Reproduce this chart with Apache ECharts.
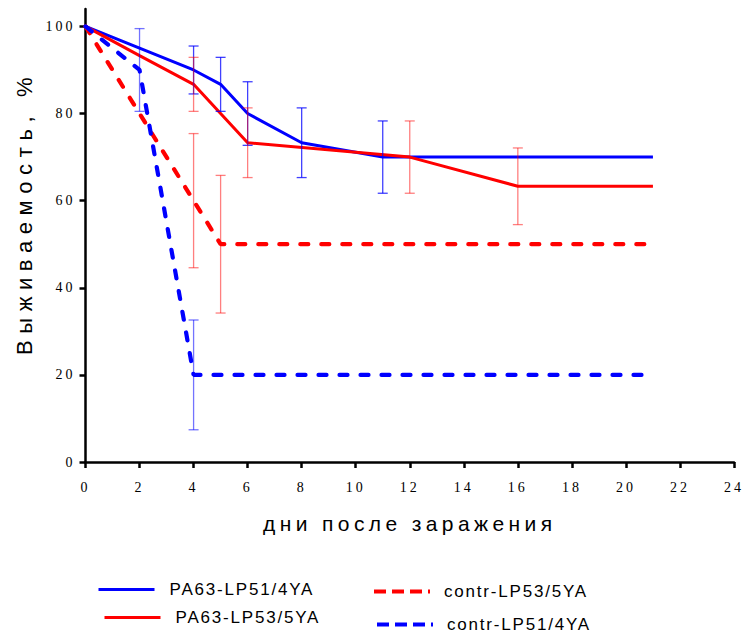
<!DOCTYPE html>
<html><head><meta charset="utf-8">
<script src="https://cdn.jsdelivr.net/npm/echarts@6/dist/echarts.min.js"></script>
<style>
html,body{margin:0;padding:0;background:#fff;}
#c{width:744px;height:637px;}
#c text[style*="14px"]{letter-spacing:3px;}
#c text[style*="17px"]{letter-spacing:1.8px;}
#c text[style*="21px"]{letter-spacing:4.4px;}
#c text[style*="22px"]{letter-spacing:6.6px;}
</style></head><body><div id="c"></div>
<script>
// ---- data ----
const seriesNames = ['PA63-LP51/4YA', 'PA63-LP53/5YA', 'contr-LP53/5YA', 'contr-LP51/4YA'];
const xAxisTitle = 'дни после заражения';
const yAxisTitle = 'Выживаемость, %';
const yTickValues = [0, 20, 40, 60, 80, 100];

const pa51Days = [0, 2, 4, 5, 6, 8, 11, 21];
const pa51Surv = [100, 95, 90, 86.7, 80, 73.3, 70, 70];
const pa53Days = [0, 2, 4, 5, 6, 12, 16, 21];
const pa53Surv = [100, 93.3, 86.7, 80, 73.3, 70, 63.3, 63.3];
const c53Days = [0, 2, 4, 5, 21];
const c53Surv = [100, 80, 60, 50, 50];
const c51Days = [0, 2, 4, 21];
const c51Surv = [100, 90, 20, 20];

const pa51ErrDays = [4, 5, 6, 8, 11];
const pa51ErrMean = [90, 86.7, 80, 73.3, 70];
const pa51ErrSd = [5.5, 6.2, 7.3, 8, 8.3];
const pa53ErrDays = [4, 6, 12, 16];
const pa53ErrMean = [86.7, 73.3, 70, 63.3];
const pa53ErrSd = [6.2, 8, 8.3, 8.8];
const c53ErrDays = [4, 5];
const c53ErrMean = [60, 50];
const c53ErrSd = [15.4, 15.8];
const c51ErrDays = [2, 4];
const c51ErrMean = [90, 20];
const c51ErrSd = [9.5, 12.6];

// ---- build ----
const zip = (xs, ys) => xs.map((x, i) => [x, ys[i]]);
const errData = (xs, m, s) => xs.map((x, i) => [x, m[i] - s[i], m[i] + s[i]]);

function errSeries(name, data, color) {
  return {
    type: 'custom', name: name, data: data, z: 5,
    encode: { x: 0, y: [1, 2] },
    renderItem: function (params, api) {
      const x = api.value(0);
      const lo = api.coord([x, api.value(1)]);
      const hi = api.coord([x, api.value(2)]);
      const w = 5;
      const st = { stroke: color, lineWidth: 1.3, fill: null };
      return {
        type: 'group', children: [
          { type: 'line', shape: { x1: lo[0], y1: lo[1], x2: hi[0], y2: hi[1] }, style: st },
          { type: 'line', shape: { x1: lo[0] - w, y1: lo[1], x2: lo[0] + w, y2: lo[1] }, style: st },
          { type: 'line', shape: { x1: hi[0] - w, y1: hi[1], x2: hi[0] + w, y2: hi[1] }, style: st }
        ]
      };
    }
  };
}

function lineSeries(name, data, color, dashed) {
  return {
    type: 'line', name: name, data: data, symbol: 'none', z: 3,
    lineStyle: dashed
      ? { color: color, width: 4.2, type: [8, 13], cap: 'round' }
      : { color: color, width: 3, type: 'solid' },
    itemStyle: { color: color }
  };
}

function mkLegend(name, left, top, dashed) {
  return {
    data: [name], left: left, top: top, padding: 0,
    itemWidth: 56, itemHeight: 14, selectedMode: false,
    itemStyle: { opacity: 0, borderWidth: 0 },
    textStyle: { fontFamily: 'Liberation Sans', fontSize: 17, color: '#000', padding: [0, 0, 0, dashed ? 9 : 10] },
    lineStyle: dashed ? { width: 4, type: [12, 6], cap: 'butt' } : { width: 3, type: 'solid' }
  };
}

const chart = echarts.init(document.getElementById('c'), null, { renderer: 'svg' });
chart.setOption({
  animation: false,
  backgroundColor: '#fff',
  grid: { left: 85.5, right: 9, top: 9, bottom: 175, containLabel: false },
  legend: [
    mkLegend(seriesNames[0], 97, 581, false),
    mkLegend(seriesNames[1], 103, 609, false),
    mkLegend(seriesNames[2], 372, 583, true),
    mkLegend(seriesNames[3], 375, 616, true)
  ],
  xAxis: {
    type: 'value', min: 0, max: 24, interval: 2,
    name: xAxisTitle, nameLocation: 'middle', nameGap: 51,
    nameTextStyle: { fontFamily: 'Liberation Sans', fontSize: 21, color: '#000' },
    axisLine: { lineStyle: { color: '#000', width: 2.5 } },
    axisTick: { length: 6, lineStyle: { color: '#000', width: 2.5 } },
    axisLabel: { fontFamily: 'Liberation Serif', fontSize: 14, color: '#000', margin: 18 },
    splitLine: { show: false }
  },
  yAxis: {
    type: 'value', min: 0, max: 104,
    name: yAxisTitle, nameLocation: 'middle', nameGap: 50, nameRotate: 90,
    nameTextStyle: { fontFamily: 'Liberation Sans', fontSize: 22, color: '#000', padding: [0, 0, 0, 45] },
    axisLine: { show: true, lineStyle: { color: '#000', width: 2.5 } },
    axisTick: { show: true, length: 6, customValues: yTickValues, lineStyle: { color: '#000', width: 2.5 } },
    axisLabel: { fontFamily: 'Liberation Serif', fontSize: 14, color: '#000', margin: 10, customValues: yTickValues, padding: [6, 0, 0, 0] },
    splitLine: { show: false }
  },
  series: [
    lineSeries(seriesNames[0], zip(pa51Days, pa51Surv), '#0000ff', false),
    lineSeries(seriesNames[1], zip(pa53Days, pa53Surv), '#ff0000', false),
    lineSeries(seriesNames[2], zip(c53Days, c53Surv), '#ff0000', true),
    lineSeries(seriesNames[3], zip(c51Days, c51Surv), '#0000ff', true),
    errSeries('err1', errData(pa51ErrDays, pa51ErrMean, pa51ErrSd), 'rgba(0,0,255,0.75)'),
    errSeries('err2', errData(pa53ErrDays, pa53ErrMean, pa53ErrSd), 'rgba(255,0,0,0.5)'),
    errSeries('err3', errData(c53ErrDays, c53ErrMean, c53ErrSd), 'rgba(255,0,0,0.5)'),
    errSeries('err4', errData(c51ErrDays, c51ErrMean, c51ErrSd), 'rgba(0,0,255,0.55)')
  ]
});
</script></body></html>
